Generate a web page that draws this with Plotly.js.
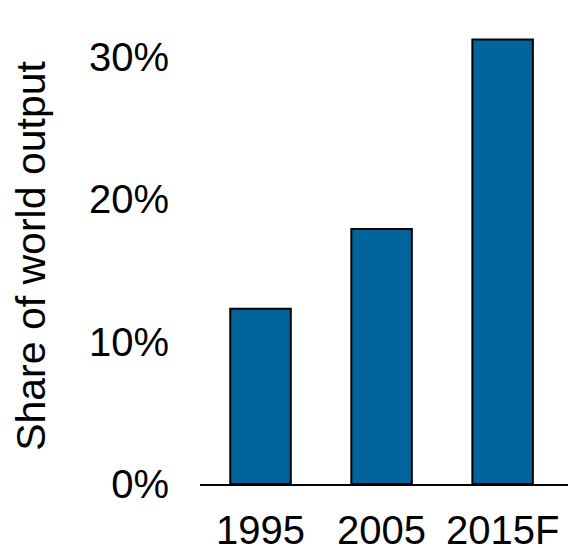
<!DOCTYPE html>
<html>
<head>
<meta charset="utf-8">
<script src="https://cdn.plot.ly/plotly-3.0.1.min.js"></script>
<style>
  html, body { margin: 0; padding: 0; background: #fff; }
  #chart { width: 568px; height: 548px; }
</style>
</head>
<body>
<div id="chart"></div>
<script>
// Share of world output by year
const years = ['1995', '2005', '2015F'];
const shares = [0.123, 0.179, 0.312];
const yTicks = [0, 0.1, 0.2, 0.3];

const FONT = 'Arial, "Liberation Sans", sans-serif';

const trace = {
  type: 'bar',
  x: years,
  y: shares,
  marker: {
    color: '#01649B',
    line: { color: '#000000', width: 2 }
  },
  hoverinfo: 'x+y'
};

const layout = {
  width: 568,
  height: 548,
  margin: { l: 200, r: 0, t: 28, b: 64 },
  paper_bgcolor: '#ffffff',
  plot_bgcolor: '#ffffff',
  bargap: 0.5,
  showlegend: false,
  font: { family: FONT, color: '#000000', size: 40 },
  xaxis: {
    type: 'category',
    range: [-0.5, 2.54],
    showline: true,
    linecolor: '#000000',
    linewidth: 2,
    showgrid: false,
    zeroline: false,
    ticks: '',
    ticklabelstandoff: 10,
    tickfont: { family: FONT, size: 40, color: '#000000' },
    fixedrange: true
  },
  yaxis: {
    range: [0, 0.32],
    tickvals: yTicks,
    tickformat: '.0%',
    showline: false,
    showgrid: false,
    zeroline: false,
    ticks: '',
    ticklabelstandoff: 30,
    tickfont: { family: FONT, size: 40, color: '#000000' },
    title: {
      text: 'Share of world output',
      font: { family: FONT, size: 41, color: '#000000' },
      standoff: 30
    },
    automargin: false,
    fixedrange: true
  }
};

Plotly.newPlot('chart', [trace], layout, { displayModeBar: false, staticPlot: true });
</script>
</body>
</html>
